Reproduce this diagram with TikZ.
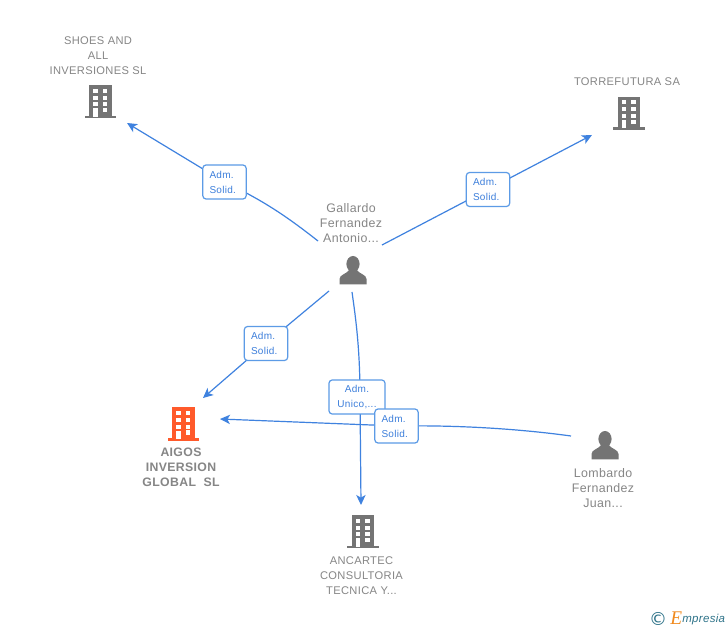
\documentclass[tikz,border=0pt]{standalone}
\usepackage{fontspec}
\setmainfont{Liberation Sans}
\newfontfamily\spacedfont[LetterSpace=3]{Liberation Sans}
\newfontfamily\logofont{Liberation Serif}
\newfontfamily\symfont{DejaVu Sans}
\usetikzlibrary{arrows.meta}
\definecolor{lab}{HTML}{868686}
\definecolor{ico}{HTML}{747474}
\definecolor{edge}{HTML}{3F82DF}
\definecolor{boxb}{HTML}{5C9BE6}
\definecolor{boxt}{HTML}{3D7FDB}
\definecolor{orangeb}{HTML}{FF5A2B}
\definecolor{teal}{HTML}{2E7389}
\definecolor{logoor}{HTML}{F08A1E}
\tikzset{
  x=0.75pt,y=-0.75pt,
  txt/.style={text=lab,align=center,inner sep=0,font=\fontsize{8.35}{11.25}\selectfont\spacedfont},
  ptxt/.style={text=lab,align=center,inner sep=0,font=\fontsize{9.3}{11.25}\selectfont\spacedfont},
  boldtxt/.style={text=lab,align=center,inner sep=0,font=\fontsize{9.2}{11.25}\selectfont\spacedfont\bfseries},
  link/.style={draw=edge,line width=0.9pt},
  tip/.style={-{Stealth[length=7.5pt,width=7pt,inset=2pt]}},
  lbox/.style={draw=boxb,fill=white,line width=0.9pt,rounded corners=2.4pt,minimum width=32.5pt,text=boxt,inner sep=0,minimum height=25.5pt,font=\fontsize{7.5}{11.25}\selectfont\spacedfont},
  sbox/.style={lbox,text width=22.5pt,align=left},
  pics/building/.style={code={
    \fill[#1] (-11.2,-16.5) rectangle (11.2,15);
    \fill[#1] (-15.7,14) rectangle (15.7,16.8);
    \foreach \yy in {-13,-6,0.8}{
      \fill[white] (-7.3,\yy) rectangle (-2.6,\yy+4);
      \fill[white] (2.2,\yy) rectangle (6.9,\yy+4);
    }
    \fill[white] (2.2,6.5) rectangle (6.9,10.8);
    \fill[white] (-7.3,6.8) rectangle (-2.6,15);
  }},
  pics/person/.style={code={
    \fill[ico] (0,-6.5) ellipse (6.6 and 8);
    \fill[ico] (-13.5,14) -- (-13.5,8.5) .. controls (-13.5,4) and (-6,3.5) .. (-3.5,-1)
      -- (3.5,-1) .. controls (6,3.5) and (13.5,4) .. (13.5,8.5) -- (13.5,14) -- cycle;
  }}
}
\newcommand{\solidtext}{\raisebox{-0.6pt}{Adm.}\\\raisebox{-0.6pt}{Solid.}}
\begin{document}
\begin{tikzpicture}
\useasboundingbox (0,0) rectangle (728,630);
\fill[white] (0,0) rectangle (728,630);
% icons and labels
\pic at (100.3,101.7) {building=ico};
\pic at (629,113.5) {building=ico};
\pic at (183.5,424) {building=orangeb};
\pic at (363,531.5) {building=ico};
\pic at (353,270.5) {person};
\pic at (605,445.5) {person};
\node[txt] (shoes) at (98,56) {SHOES AND\\ALL\\INVERSIONES SL};
\node[txt] (torre) at (627,82) {TORREFUTURA SA};
\node[boldtxt] (aigos) at (181,467.5) {AIGOS\\INVERSION\\GLOBAL\ \ SL};
\node[txt] (ancartec) at (361.5,575.5) {ANCARTEC\\CONSULTORIA\\TECNICA Y...};
\node[ptxt] (gallardo) at (351,223) {Gallardo\\Fernandez\\Antonio...};
\node[ptxt] (lombardo) at (603,488) {Lombardo\\Fernandez\\Juan...};
% connector ends
\coordinate (g1) at (318,241);
\coordinate (g2) at (382,245);
\coordinate (g3) at (329,291);
\coordinate (g4) at (352,292);
\coordinate (l1) at (571,436);
\coordinate (t1) at (127,123);
\coordinate (t2) at (592,135);
\coordinate (t3) at (203,398);
\coordinate (t4) at (361,505);
\coordinate (t5) at (220,419);
\coordinate (b1) at (224.5,182);
\coordinate (b2) at (488,189.5);
\coordinate (b3) at (266,343.5);
\coordinate (b4) at (357,397);
\coordinate (b5) at (396.5,426);
% connectors
\draw[link,tip] (b1) -- (t1);
\draw[link] (g1) .. controls (285,215) and (262,200) .. (b1);
\draw[link,tip] (b2) -- (t2);
\draw[link] (g2) -- (b2);
\draw[link,tip] (b3) -- (t3);
\draw[link] (g3) -- (b3);
\draw[link] (g4) .. controls (356,320) and (360,350) .. (360,397);
\draw[link,tip] (360,397) -- (t4);
\draw[link] (l1) .. controls (520,429) and (460,425) .. (b5);
\draw[link,tip] (b5) -- (t5);
% label boxes
\node[sbox] (box1) at (b1) {\solidtext};
\node[sbox] (box2) at (b2) {\solidtext};
\node[sbox] (box3) at (b3) {\solidtext};
\node[lbox,minimum width=42pt,align=center] (box4) at (b4) {\raisebox{-0.6pt}{Adm.}\\\raisebox{-0.6pt}{Unico,...}};
\node[sbox] (box5) at (b5) {\solidtext};
% logo
\node[inner sep=0,text=teal,font=\fontsize{13.5}{14}\selectfont\symfont] (copy) at (658,619) {©};
\node[inner sep=0,anchor=west,font=\fontsize{14.5}{14}\selectfont\itshape\logofont,text=logoor] (logoe) at (670,618.5) {E};
\node[inner sep=0,anchor=west,font=\fontsize{8.6}{11}\selectfont\itshape\spacedfont,text=teal] (logo) at (682,619.5) {mpresia};
\end{tikzpicture}
\end{document}
